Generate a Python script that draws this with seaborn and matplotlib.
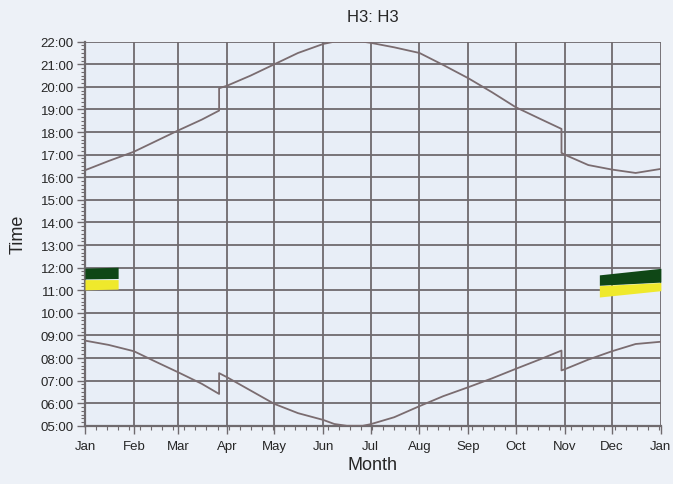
import numpy as np
import pandas as pd
import matplotlib
matplotlib.use("Agg")
import matplotlib.pyplot as plt
from matplotlib.ticker import FixedLocator, MultipleLocator, FuncFormatter
import seaborn as sns

# day of year / hour of day (two points on one day = clock change)
sunset_day = [0, 15, 31, 45, 59, 74, 85, 85, 90, 105, 120, 135, 151, 158, 166, 176, 181,
              196, 212, 227, 243, 258, 273, 288, 302, 302, 304, 319, 334, 349, 365]
sunset_hr = [16.31, 16.72, 17.13, 17.6, 18.07, 18.55, 18.95, 19.94, 20.05, 20.5, 21.0, 21.5,
             21.9, 22.0, 22.0, 22.0, 21.95, 21.75, 21.5, 20.97, 20.38, 19.76, 19.1, 18.6,
             18.14, 17.08, 17.0, 16.54, 16.34, 16.19, 16.37]

sunrise_day = [0, 15, 31, 45, 59, 74, 85, 85, 90, 105, 120, 135, 151, 158, 166, 176, 181,
               196, 212, 227, 243, 258, 273, 288, 302, 302, 304, 319, 334, 349, 365]
sunrise_hr = [8.77, 8.58, 8.3, 7.83, 7.37, 6.86, 6.41, 7.33, 7.15, 6.56, 5.97, 5.56,
              5.26, 5.08, 5.0, 5.0, 5.07, 5.38, 5.87, 6.31, 6.71, 7.1, 7.52, 7.93,
              8.33, 7.45, 7.5, 7.93, 8.3, 8.62, 8.72]

# coloured bands in Jan and Dec
jan_day = [0, 21]
jan_green_top = [11.98, 12.02]
jan_green_bot = [11.5, 11.52]
jan_yellow_top = [11.47, 11.47]
jan_yellow_bot = [11.02, 11.05]

dec_day = [326, 365]
dec_green_top = [11.68, 11.97]
dec_green_bot = [11.22, 11.36]
dec_yellow_top = [11.2, 11.34]
dec_yellow_bot = [10.7, 10.98]

month_start = [0, 31, 59, 90, 120, 151, 181, 212, 243, 273, 304, 334, 365]
month_labels = ["Jan", "Feb", "Mar", "Apr", "May", "Jun", "Jul", "Aug",
                "Sep", "Oct", "Nov", "Dec", "Jan"]

sns.set_theme(style="white")
plt.rcParams["font.family"] = ["Liberation Sans", "DejaVu Sans"]

fig = plt.figure(figsize=(6.73, 4.85), dpi=100, facecolor="#edf1f7")
ax = fig.add_axes([0.1263, 0.12, 0.8557, 0.792])
ax.set_facecolor("#e8eef7")

line_col = "#7a6c70"
grid_col = "#6f6a6e"

sun = pd.DataFrame({"day": sunset_day, "hour": sunset_hr})
rise = pd.DataFrame({"day": sunrise_day, "hour": sunrise_hr})
sns.lineplot(data=sun, x="day", y="hour", ax=ax, estimator=None, sort=False,
             color=line_col, lw=1.3, zorder=3)
sns.lineplot(data=rise, x="day", y="hour", ax=ax, estimator=None, sort=False,
             color=line_col, lw=1.3, zorder=3)

ax.fill_between(jan_day, jan_green_bot, jan_green_top, color="#0f4716", lw=0, zorder=4)
ax.fill_between(jan_day, jan_yellow_bot, jan_yellow_top, color="#efe92c", lw=0, zorder=4)
ax.fill_between(dec_day, dec_green_bot, dec_green_top, color="#0f4716", lw=0, zorder=4)
ax.fill_between(dec_day, dec_yellow_bot, dec_yellow_top, color="#efe92c", lw=0, zorder=4)

ax.set_xlim(0, 365)
ax.set_ylim(5, 22)
ax.xaxis.set_major_locator(FixedLocator(month_start))
ax.set_xticklabels(month_labels)
ax.xaxis.set_minor_locator(MultipleLocator(7))
ax.yaxis.set_major_locator(MultipleLocator(1))
ax.yaxis.set_minor_locator(MultipleLocator(1 / 6))
ax.yaxis.set_major_formatter(FuncFormatter(lambda v, p: "%02d:00" % int(round(v))))

ax.grid(True, which="major", color=grid_col, lw=1.3)
ax.set_axisbelow(True)
for s in ["top", "right"]:
    ax.spines[s].set_visible(False)
for s in ["left", "bottom"]:
    ax.spines[s].set_color(grid_col)
    ax.spines[s].set_linewidth(1.6)

ax.tick_params(axis="both", which="major", direction="out", length=6, width=1,
               color=grid_col, labelsize=9.5, pad=2, bottom=True, left=True)
ax.tick_params(axis="both", which="minor", direction="out", length=3, width=0.8,
               color=grid_col, bottom=True, left=True)
ax.tick_params(axis="x", which="major", pad=4)

ax.set_xlabel("Month", fontsize=13, labelpad=3)
ax.set_ylabel("Time", fontsize=13, labelpad=10)
ax.set_title("H3: H3", fontsize=12, pad=15)

fig.savefig("out.png", dpi=100, facecolor=fig.get_facecolor())
